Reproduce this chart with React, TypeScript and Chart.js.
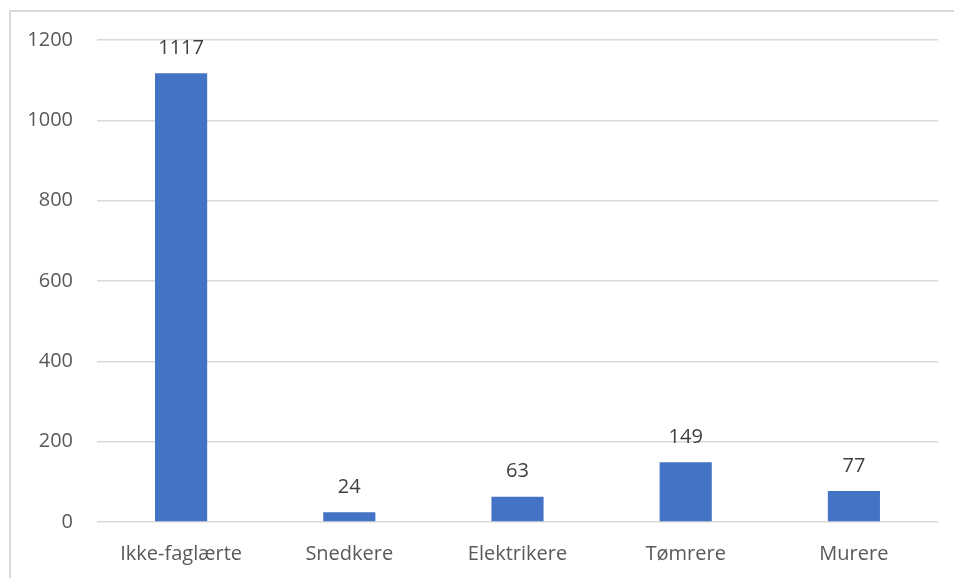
import React, { useEffect, useRef } from "react";
import { Chart, registerables } from "chart.js";

Chart.register(...registerables);

const categories = ["Ikke-faglærte", "Snedkere", "Elektrikere", "Tømrere", "Murere"];
const values = [1117, 24, 63, 149, 77];
const yTicks = [0, 200, 400, 600, 800, 1000, 1200];

const FONT = "'Open Sans', 'Noto Sans', sans-serif";

const dataLabels = {
  id: "dataLabels",
  afterDatasetsDraw(chart: any) {
    const ctx = chart.ctx;
    const meta = chart.getDatasetMeta(0);
    ctx.save();
    ctx.font = `20px ${FONT}`;
    ctx.fillStyle = "#404040";
    ctx.textAlign = "center";
    ctx.textBaseline = "middle";
    meta.data.forEach((bar: any, i: number) => {
      ctx.fillText(String(values[i]), bar.x, bar.y - 25);
    });
    ctx.restore();
  },
};

export default function App() {
  const ref = useRef<HTMLCanvasElement>(null);
  useEffect(() => {
    if (!ref.current) return;
    const chart = new Chart(ref.current, {
      type: "bar",
      data: {
        labels: categories,
        datasets: [
          {
            data: values,
            backgroundColor: "#4472C4",
            barPercentage: 0.31,
            categoryPercentage: 1,
          },
        ],
      },
      options: {
        animation: false,
        responsive: false,
        maintainAspectRatio: false,
        layout: { padding: { left: 10, right: 16, top: 40, bottom: 0 } },
        plugins: { legend: { display: false }, tooltip: { enabled: false } },
        scales: {
          x: {
            grid: { display: false },
            border: { display: false },
            ticks: { color: "#595959", font: { family: FONT, size: 20 }, padding: 12 },
            afterFit(scale: any) {
              scale.height = 56;
            },
          },
          y: {
            min: 0,
            max: 1200,
            afterBuildTicks(scale: any) {
              scale.ticks = yTicks.map((v) => ({ value: v }));
            },
            grid: { color: "#d9d9d9", lineWidth: 1.5, drawTicks: false },
            border: { display: false },
            ticks: {
              color: "#595959",
              font: { family: FONT, size: 20 },
              padding: 24,
              callback: (v: any) => String(v),
            },
            afterFit(scale: any) {
              scale.width = 87;
            },
          },
        },
      },
      plugins: [dataLabels],
    });
    return () => chart.destroy();
  }, []);
  return (
    <div style={{ position: "fixed", left: 0, top: 0, width: 954, height: 578, background: "#fff" }}>
      <canvas ref={ref} width={954} height={578} style={{ display: "block" }} />
      <div
        style={{
          position: "absolute",
          left: 9,
          top: 10,
          right: 0,
          bottom: 0,
          borderTop: "2px solid #d9d9d9",
          borderLeft: "2px solid #d9d9d9",
          pointerEvents: "none",
        }}
      />
    </div>
  );
}
